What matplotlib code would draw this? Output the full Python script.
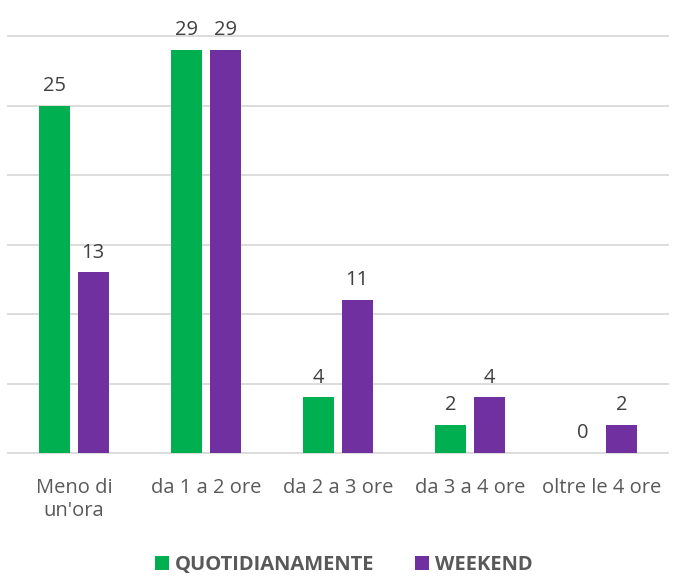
import matplotlib
matplotlib.use("Agg")
import matplotlib.pyplot as plt
import numpy as np

categories = ["Meno di\nun'ora", "da 1 a 2 ore", "da 2 a 3 ore", "da 3 a 4 ore", "oltre le 4 ore"]
quotidianamente = [25, 29, 4, 2, 0]
weekend = [13, 29, 11, 4, 2]
series_names = ["QUOTIDIANAMENTE", "WEEKEND"]

plt.rcParams['font.family'] = ['Open Sans', 'DejaVu Sans']

fig = plt.figure(figsize=(6.73, 5.76), dpi=100)
ax = fig.add_axes([8/673, (576-453)/576, 660/673, (453-36)/576])

x = np.arange(len(categories))
w = 0.235
off = 0.146
green = "#00B050"
purple = "#7030A0"
b1 = ax.bar(x - off, quotidianamente, w, color=green, label=series_names[0], zorder=3)
b2 = ax.bar(x + off, weekend, w, color=purple, label=series_names[1], zorder=3)

for bars, vals in ((b1, quotidianamente), (b2, weekend)):
    for r, v in zip(bars, vals):
        ax.annotate(str(v), (r.get_x() + r.get_width()/2, v), xytext=(0, 7),
                    textcoords="offset points", ha="center", va="bottom",
                    fontsize=14.5, color="#404040")

ax.set_xlim(-0.5, len(categories) - 0.5)
ax.set_ylim(0, 30)
ax.set_yticks(np.arange(0, 31, 5))
ax.yaxis.grid(True, color="#D9D9D9", linewidth=1.3, zorder=0)
ax.tick_params(axis='y', left=False, labelleft=False)
ax.tick_params(axis='x', length=0, pad=18, labelsize=14.5, labelcolor="#595959")
for gl in ax.get_ygridlines():
    gl.set_clip_on(False)
for s in ax.spines.values():
    s.set_visible(False)
ax.set_xticks(x)
ax.set_xticklabels(categories, linespacing=1.2)

leg = fig.legend(handles=[b1, b2], labels=series_names, loc="center",
                 bbox_to_anchor=(344/673, 1 - 565/576), ncol=2, frameon=False,
                 handlelength=0.7, handleheight=0.7, handletextpad=0.3,
                 columnspacing=2.0, prop={'weight': 'bold', 'size': 14.5})
for t in leg.get_texts():
    t.set_color("#595959")

fig.savefig("out.png", dpi=100)
